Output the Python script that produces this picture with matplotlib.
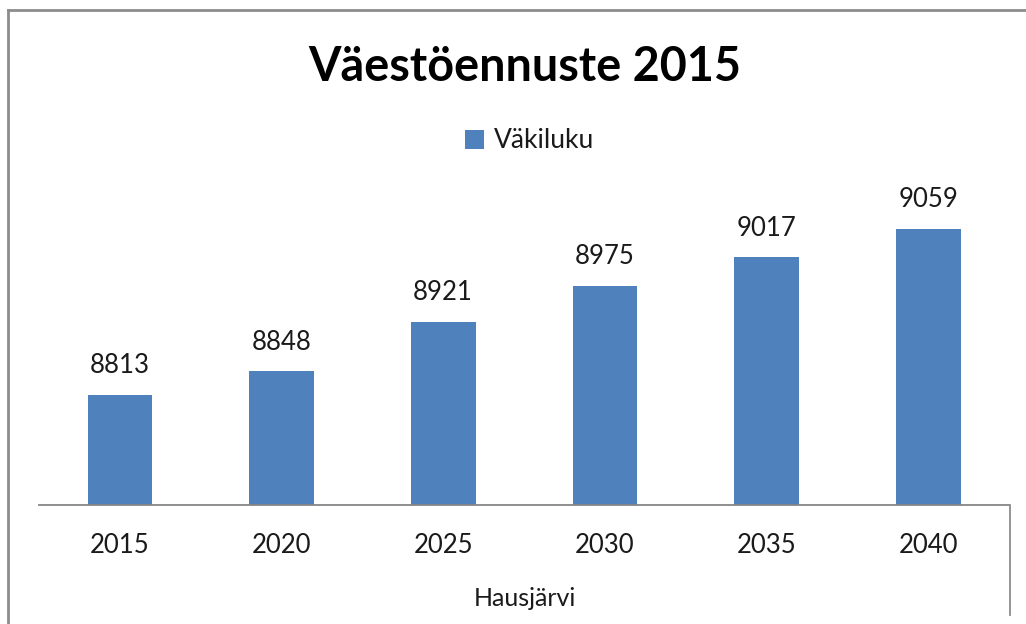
import matplotlib
matplotlib.use("Agg")
import matplotlib.pyplot as plt
from matplotlib.lines import Line2D
from matplotlib.patches import Patch

years = ["2015", "2020", "2025", "2030", "2035", "2040"]
population = [8813, 8848, 8921, 8975, 9017, 9059]
series_name = "Väkiluku"
title = "Väestöennuste 2015"
xlabel = "Hausjärvi"

plt.rcParams['font.family'] = ['Lato', 'DejaVu Sans']

W, H = 1026, 624
fig = plt.figure(figsize=(W / 100, H / 100), dpi=100)
fig.patch.set_facecolor('white')

ax_left, ax_right = 39 / W, 1009 / W
ax_bottom = (H - 505) / H
ax_top = (H - 201.25) / H
ax = fig.add_axes([ax_left, ax_bottom, ax_right - ax_left, ax_top - ax_bottom])

x = range(len(years))
bars = ax.bar(x, population, width=0.4, color='#4F81BD', bottom=0)
ax.set_ylim(8650, 9100)
ax.set_xlim(-0.5, len(years) - 0.5)
ax.bar_label(bars, labels=[str(v) for v in population], padding=12,
             fontsize=18.5, color='#1a1a1a')

ax.set_xticks(list(x))
ax.set_xticklabels(years, fontsize=18.5, color='#1a1a1a')
ax.tick_params(axis='x', length=0, pad=20)
ax.set_yticks([])
for s in ['top', 'right', 'left']:
    ax.spines[s].set_visible(False)
ax.spines['bottom'].set_color('#868686')
ax.spines['bottom'].set_linewidth(1.3)
ax.set_facecolor('none')

fig.text(525 / W, 1 - 67 / H, title, ha='center', va='center',
         fontsize=33.7, fontweight='bold', color='black')

fig.legend(handles=[Patch(facecolor='#4F81BD', edgecolor='none', label=series_name)],
           loc='center', bbox_to_anchor=(530 / W, 1 - 141 / H), frameon=False,
           fontsize=19, handlelength=0.7, handleheight=0.7, handletextpad=0.4,
           labelcolor='#1a1a1a')

fig.text(525 / W, 1 - 599 / H, xlabel, ha='center', va='center',
         fontsize=18, color='#1a1a1a')

# chart frame lines
fig.add_artist(Line2D([8 / W, 8 / W], [0, 1 - 10 / H], color='#8c8c8c', lw=2))
fig.add_artist(Line2D([8 / W, 1], [1 - 10 / H, 1 - 10 / H], color='#8c8c8c', lw=2))
fig.add_artist(Line2D([1010 / W, 1010 / W], [1 - 505 / H, 1 - 615 / H], color='#8c8c8c', lw=1.3))

fig.savefig('out.png', dpi=100, facecolor='white')
